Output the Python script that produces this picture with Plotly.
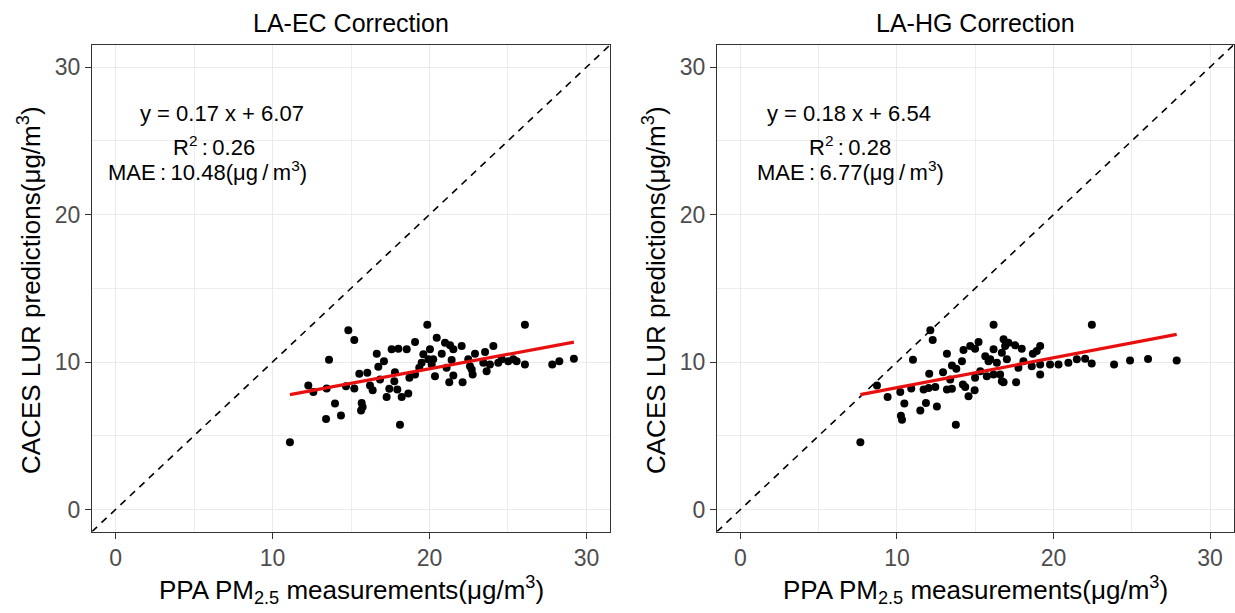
import numpy as np
import plotly.graph_objects as go

# ------------------------------
# Data
ec_x = [14.83, 15.21, 13.60, 12.28, 12.60, 13.45, 13.98, 13.41, 14.36, 11.11,
        14.68, 15.21, 15.53, 16.04, 15.68, 15.74, 15.64, 16.21, 16.38, 16.64,
        16.74, 17.10, 16.85, 17.27, 17.44, 17.59, 18.02, 17.80, 17.76, 17.95,
        18.23, 18.12, 18.65, 18.55, 19.08, 18.72, 19.08, 19.86, 19.61, 20.03,
        19.50, 19.93, 20.35, 20.46, 19.35, 20.14, 20.99, 21.31, 22.05, 21.52,
        24.07, 23.54, 22.90, 20.78, 20.24, 21.41, 22.47, 22.58, 22.69, 23.43,
        23.64, 23.85, 24.38, 24.60, 25.02, 25.34, 25.55, 21.52, 21.26, 22.11,
        22.75, 21.09, 26.08, 26.08, 27.82, 28.27, 29.20]
ec_y = [12.15, 11.49, 10.15, 8.40, 7.97, 8.20, 7.18, 6.13, 6.38, 4.56,
        8.36, 8.20, 9.20, 9.27, 7.22, 6.95, 6.72, 8.40, 8.08, 10.56,
        9.68, 10.06, 8.81, 7.63, 8.18, 10.86, 10.90, 9.31, 8.70, 8.13,
        7.63, 5.74, 7.86, 10.86, 11.36, 8.93, 9.15, 12.52, 10.52, 10.86,
        9.95, 10.18, 9.04, 11.65, 9.61, 9.84, 11.31, 11.13, 11.09, 10.86,
        11.09, 10.68, 10.56, 10.56, 10.18, 10.13, 10.18, 9.72, 9.49, 9.95,
        9.38, 9.84, 9.95, 10.18, 10.06, 10.18, 10.06, 9.09, 8.63, 8.63,
        9.15, 9.61, 12.52, 9.84, 9.84, 10.06, 10.22]

hg_x = [16.17, 12.13, 12.28, 11.02, 8.72, 9.40, 10.21, 10.91, 10.47, 10.25,
        10.32, 11.49, 11.85, 12.55, 7.66, 13.76, 12.06, 11.70, 12.02, 12.45,
        12.94, 13.19, 13.19, 13.51, 13.51, 13.79, 14.15, 13.40, 14.21, 14.36,
        14.57, 14.96, 14.25, 14.68, 14.99, 15.21, 14.99, 15.32, 15.64, 15.85,
        16.17, 15.96, 16.38, 16.81, 16.91, 16.70, 16.59, 16.17, 15.74, 17.02,
        22.45, 17.12, 17.55, 17.97, 19.15, 18.93, 18.68, 16.70, 18.08, 17.76,
        18.61, 19.15, 19.15, 19.78, 20.32, 20.95, 21.49, 22.02, 22.44, 16.81,
        17.61, 23.87, 24.89, 26.04, 27.87]
hg_y = [12.52, 12.15, 11.49, 10.15, 8.40, 7.63, 7.97, 8.20, 7.18, 6.36,
        6.09, 6.72, 7.22, 6.99, 4.56, 5.74, 9.20, 8.13, 8.24, 8.31,
        9.31, 10.56, 8.13, 8.18, 9.77, 9.54, 10.06, 8.81, 8.47, 8.31,
        7.68, 8.08, 10.81, 11.09, 10.90, 11.36, 8.93, 9.38, 10.40, 10.06,
        10.86, 10.18, 9.95, 11.54, 11.09, 8.70, 9.15, 9.15, 9.04, 10.18,
        12.52, 11.31, 11.13, 10.90, 11.09, 10.75, 10.56, 10.63, 10.06, 9.61,
        9.72, 9.84, 9.15, 9.84, 9.84, 9.95, 10.18, 10.22, 9.90, 8.63,
        8.63, 9.84, 10.10, 10.20, 10.10]

panel_titles = ["LA-EC Correction", "LA-HG Correction"]
eq_text = ["y = 0.17 x + 6.07", "y = 0.18 x + 6.54"]
r2_text = ["0.26", "0.28"]
mae_text = ["10.48", "6.77"]
tick_vals = [0, 10, 20, 30]

# ------------------------------
W, H = 1235, 613
axis_range = [-1.5, 31.5]
font = "Liberation Sans, Arial, sans-serif"
th = "\u2009"  # thin space, like plotmath spacing

fig = go.Figure()

panels = [(ec_x, ec_y, "x", "y"), (hg_x, hg_y, "x2", "y2")]
for i, (px, py, xa, ya) in enumerate(panels):
    px = np.array(px)
    py = np.array(py)
    # 1:1 reference line
    fig.add_trace(go.Scatter(
        x=axis_range, y=axis_range, mode="lines",
        line=dict(color="black", width=1.6, dash="7px,6px"),
        xaxis=xa, yaxis=ya, showlegend=False, hoverinfo="skip"))
    fig.add_trace(go.Scatter(
        x=px, y=py, mode="markers",
        marker=dict(color="black", size=8),
        xaxis=xa, yaxis=ya, showlegend=False))
    # linear fit
    slope, icpt = np.polyfit(px, py, 1)
    xs = np.array([px.min(), px.max()])
    fig.add_trace(go.Scatter(
        x=xs, y=slope * xs + icpt, mode="lines",
        line=dict(color="#e8100f", width=3.2),
        xaxis=xa, yaxis=ya, showlegend=False, hoverinfo="skip"))

axis_style = dict(
    range=axis_range, tickmode="array", tickvals=tick_vals,
    showgrid=True, gridcolor="#ebebeb", gridwidth=1.2,
    minor=dict(dtick=5, tick0=0, showgrid=True, gridcolor="#ededed", gridwidth=0.7),
    zeroline=False, showline=True, mirror=True, linecolor="#333333", linewidth=1.1,
    ticks="outside", ticklen=6, tickcolor="#333333", tickwidth=1.1,
    tickfont=dict(family=font, size=23, color="#4d4d4d"),
)

ydom = [1 - 531.6 / H, 1 - 45 / H]
fig.update_layout(
    width=W, height=H,
    margin=dict(l=0, r=0, t=0, b=0),
    paper_bgcolor="white", plot_bgcolor="white",
    xaxis=dict(axis_style, domain=[92 / W, 610 / W], anchor="y"),
    yaxis=dict(axis_style, domain=ydom, anchor="x"),
    xaxis2=dict(axis_style, domain=[717 / W, 1233.5 / W], anchor="y2"),
    yaxis2=dict(axis_style, domain=ydom, anchor="x2"),
)

centers = [351 / W, 975 / W]
ylab_x = [29 / W, 654 / W]
eq_x = [6.78, 6.96]
r2_x = [6.27, 7.02]
mae_x = [5.83, 7.02]
refs = [("x", "y"), ("x2", "y2")]
for i in range(2):
    fig.add_annotation(text=panel_titles[i], xref="paper", yref="paper",
                       x=centers[i], y=1 - 23 / H, xanchor="center", yanchor="middle",
                       showarrow=False, font=dict(family=font, size=25, color="black"))
    fig.add_annotation(text="PPA PM<sub>2.5</sub> measurements(μg/m<sup>3</sup>)",
                       xref="paper", yref="paper", x=centers[i], y=1 - 590 / H,
                       xanchor="center", yanchor="middle",
                       showarrow=False, font=dict(family=font, size=26, color="black"))
    fig.add_annotation(text="CACES LUR predictions(μg/m<sup>3</sup>)",
                       xref="paper", yref="paper", x=ylab_x[i], y=1 - 290 / H,
                       xanchor="center", yanchor="middle",
                       textangle=-90, showarrow=False,
                       font=dict(family=font, size=26, color="black"))
    xr, yr = refs[i]
    lines = [(eq_text[i], eq_x[i], 26.88),
             ("R<sup>2</sup>" + th + ":" + th + r2_text[i], r2_x[i], 24.65),
             ("MAE" + th + ":" + th + mae_text[i] + "(μg" + th + "/" + th + "m<sup>3</sup>)",
              mae_x[i], 22.95)]
    for txt, xx, yy in lines:
        fig.add_annotation(text=txt, xref=xr, yref=yr, x=xx, y=yy,
                           xanchor="center", yanchor="middle", showarrow=False,
                           font=dict(family=font, size=22, color="black"))

fig.write_html("out.html", config={"displayModeBar": False},
               post_script="document.body.style.margin='0px';")
